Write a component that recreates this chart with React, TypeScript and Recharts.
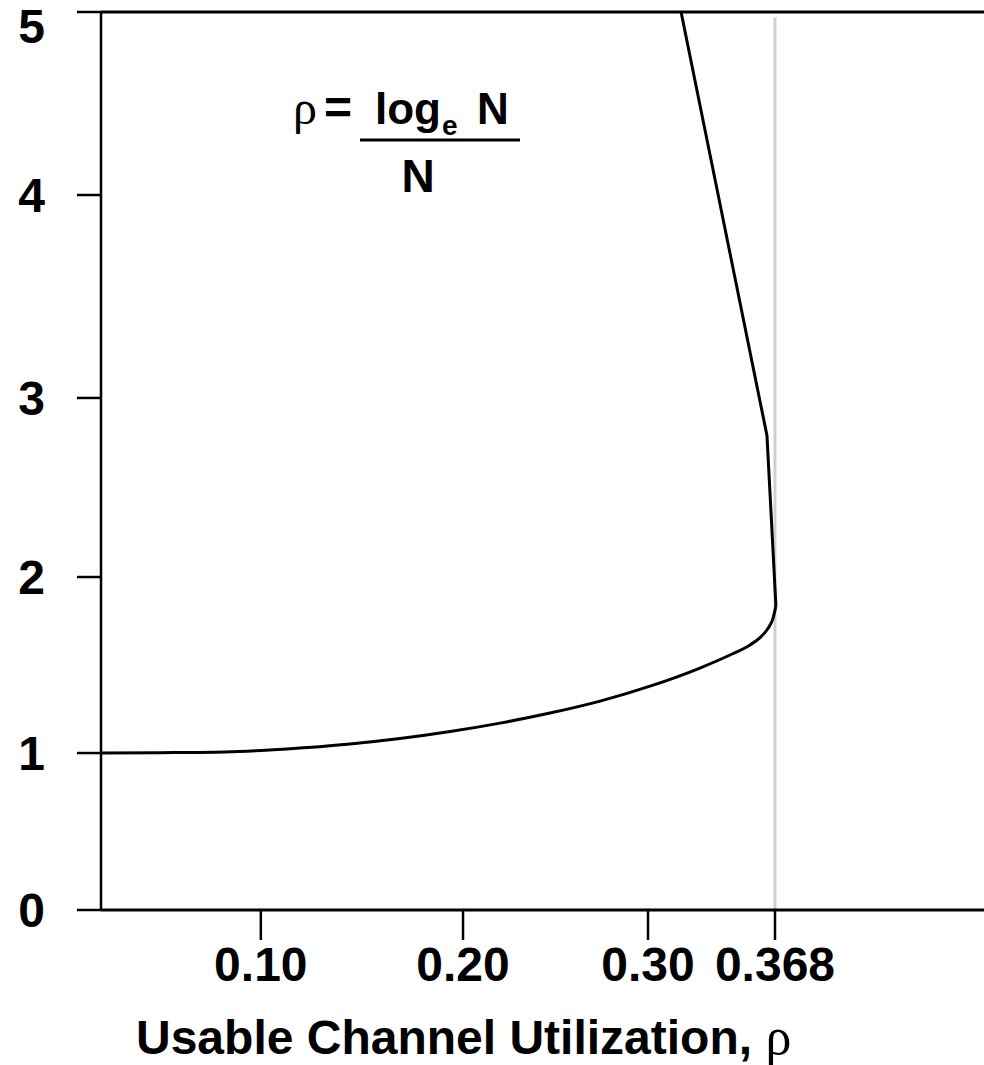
import React from 'react';
import { LineChart, Line, XAxis, YAxis, ReferenceLine } from 'recharts';

// axis ticks
const xTicks = [0.1, 0.2, 0.3, 0.368];
const xTickLabels = ['0.10', '0.20', '0.30', '0.368'];
const yTicks = [0, 1, 2, 3, 4, 5];
const yTickLabels = ['0', '1', '2', '3', '4', '5'];

// lower branch of rho = ln N / N, N climbing from 1 up to the peak
const lowerRho = [0, 0.0369, 0.0775, 0.1129, 0.1441, 0.1688, 0.1936, 0.22, 0.247, 0.2741, 0.3011, 0.3278, 0.3439, 0.3546, 0.36, 0.3642, 0.3669, 0.3685];
const lowerN = [1.0, 1.002, 1.006, 1.023, 1.051, 1.082, 1.122, 1.17, 1.227, 1.295, 1.38, 1.483, 1.557, 1.614, 1.656, 1.707, 1.764, 1.835];

// upper branch, going back down in rho as N grows
const upperRho = [0.3685, 0.3637, 0.3177];
const upperN = [1.835, 2.79, 5];

// the drawn axes are not evenly spaced, so each tick gets its share of the axis length
const xAxisKnots = [0, 0.1, 0.2, 0.3, 0.368, 0.48];
const xAxisStops = [0, 0.181, 0.41, 0.6195, 0.7633, 1];
const yAxisKnots = [0, 1, 2, 3, 4, 5];
const yAxisStops = [0, 0.1748, 0.3708, 0.5702, 0.7962, 1];

const FONT = '"Liberation Sans", Arial, Helvetica, sans-serif';
const SERIF = '"Liberation Serif", "Times New Roman", serif';

// piecewise-linear scale with the d3 interface recharts expects
function stretchScale(knots: number[], stops: number[]): any {
  let dom = [knots[0], knots[knots.length - 1]];
  let rng = [0, 1];
  const frac = (v: number) => {
    let i = 1;
    while (i < knots.length - 1 && v > knots[i]) i++;
    const t = (v - knots[i - 1]) / (knots[i] - knots[i - 1]);
    return stops[i - 1] + t * (stops[i] - stops[i - 1]);
  };
  const scale: any = (v: number) => rng[0] + frac(v) * (rng[1] - rng[0]);
  scale.domain = (d?: number[]) => {
    if (!d) return dom;
    dom = d.slice();
    return scale;
  };
  scale.range = (r?: number[]) => {
    if (!r) return rng;
    rng = r.slice();
    return scale;
  };
  scale.copy = () => stretchScale(knots, stops).domain(dom).range(rng);
  scale.ticks = () => knots.filter((k) => k >= Math.min(...dom) && k <= Math.max(...dom));
  scale.tickFormat = () => (d: number) => String(d);
  scale.invert = (px: number) => {
    const f = (px - rng[0]) / (rng[1] - rng[0]);
    let i = 1;
    while (i < stops.length - 1 && f > stops[i]) i++;
    const t = (f - stops[i - 1]) / (stops[i] - stops[i - 1]);
    return knots[i - 1] + t * (knots[i] - knots[i - 1]);
  };
  scale.clamp = () => scale;
  scale.nice = () => scale;
  return scale;
}

const xScale = stretchScale(xAxisKnots, xAxisStops);
const yScale = stretchScale(yAxisKnots, yAxisStops);

const lowerData = lowerRho.map((x, i) => ({ x, n: lowerN[i] }));
const upperData = upperRho.map((x, i) => ({ x, n: upperN[i] }));

const YTick = (props: any) => {
  const { x, y, index } = props;
  return (
    <text
      x={x}
      y={Math.max(y, 26)}
      dy="0.355em"
      textAnchor="end"
      fontFamily={FONT}
      fontWeight="bold"
      fontSize={48}
      fill="#000"
    >
      {yTickLabels[index]}
    </text>
  );
};

export default function App() {
  return (
    <div style={{ position: 'absolute', left: 0, top: 0, background: '#fff' }}>
      <LineChart
        width={984}
        height={1065}
        margin={{ top: 12, right: 0, left: 0, bottom: 75 }}
      >
        <XAxis
          type="number"
          dataKey="x"
          scale={xScale}
          domain={[0, 0.48]}
          ticks={xTicks}
          interval={0}
          height={80}
          tickSize={30}
          tickMargin={7}
          tickFormatter={(v: number, i: number) => xTickLabels[i]}
          axisLine={{ stroke: '#000', strokeWidth: 3 }}
          tickLine={{ stroke: '#000', strokeWidth: 2.5 }}
          tick={{ fill: '#000', fontFamily: FONT, fontWeight: 'bold', fontSize: 48 }}
        />
        <YAxis
          type="number"
          scale={yScale}
          domain={[0, 5]}
          ticks={yTicks}
          interval={0}
          width={101}
          tickSize={24}
          tickMargin={32}
          axisLine={{ stroke: '#000', strokeWidth: 2.5 }}
          tickLine={{ stroke: '#000', strokeWidth: 2.5 }}
          tick={<YTick />}
        />
        <ReferenceLine y={5} stroke="#000" strokeWidth={3} />
        <ReferenceLine
          segment={[{ x: 0.368, y: 0 }, { x: 0.368, y: 4.97 }]}
          stroke="#cfcfcf"
          strokeWidth={3}
        />
        <Line
          data={lowerData}
          dataKey="n"
          type="monotone"
          stroke="#000"
          strokeWidth={3}
          dot={false}
          activeDot={false}
          isAnimationActive={false}
        />
        <Line
          data={upperData}
          dataKey="n"
          type="linear"
          stroke="#000"
          strokeWidth={3}
          dot={false}
          activeDot={false}
          isAnimationActive={false}
        />
        <text x={293} y={124} fontFamily={FONT} fontWeight="bold" fontSize={44} fill="#000">
          <tspan fontFamily={SERIF} fontWeight="normal" fontSize={48}>ρ</tspan>
          <tspan x={324} fontSize={48}>=</tspan>
          <tspan x={375}>log</tspan>
          <tspan x={442} dy={11} fontSize={28}>e</tspan>
          <tspan x={477} dy={-11}>N</tspan>
        </text>
        <line x1={360} y1={140} x2={520} y2={140} stroke="#000" strokeWidth={3} />
        <text x={418} y={192} textAnchor="middle" fontFamily={FONT} fontWeight="bold" fontSize={46} fill="#000">
          N
        </text>
        <text x={136} y={1054} fontFamily={FONT} fontWeight="bold" fontSize={48} fill="#000">
          Usable Channel Utilization,{' '}
          <tspan fontFamily={SERIF} fontWeight="normal" fontSize={52}>ρ</tspan>
        </text>
      </LineChart>
    </div>
  );
}
